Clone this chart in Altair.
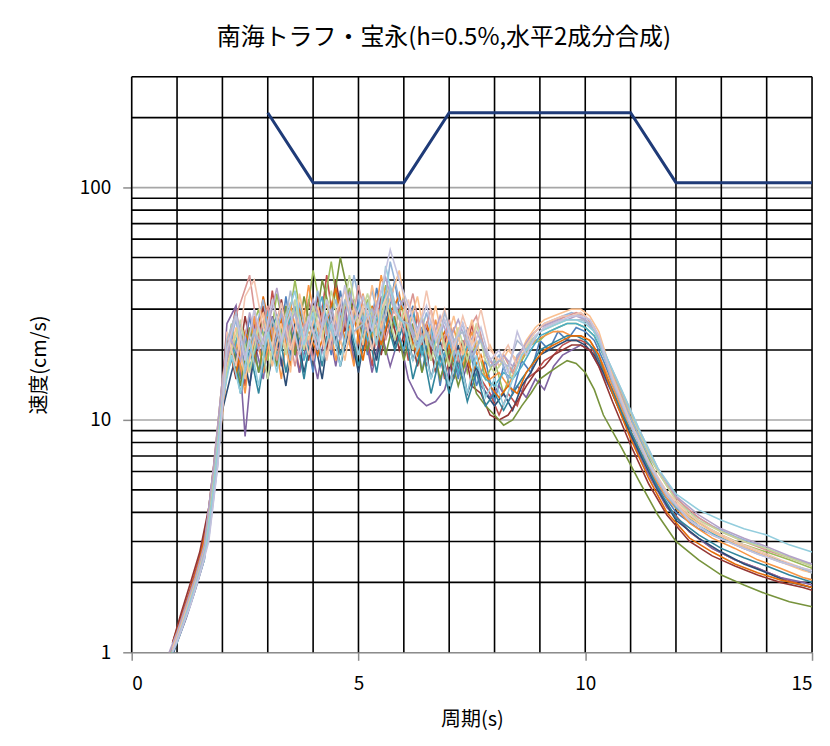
import altair as alt
import pandas as pd

TITLE = "南海トラフ・宝永(h=0.5%,水平2成分合成)"
X_TITLE = "周期(s)"
Y_TITLE = "速度(cm/s)"

X_TICKS = [0, 5, 10, 15]
Y_TICKS = [1, 10, 100]
GRID_X = [0, 1, 2, 3, 4, 5, 6, 7, 8, 9, 10, 11, 12, 13, 14, 15]
GRID_Y_MINOR = [2, 3, 4, 5, 6, 7, 8, 9, 20, 30, 40, 50, 60, 70, 80, 90, 200, 300]
GRID_Y_MAJOR = [10, 100]

# target spectrum
TARGET_T = [3, 4, 6, 7, 11, 12, 15]
TARGET_V = [210, 105, 105, 210, 210, 105, 105]

PERIOD_A = [0.8, 1.0, 1.2, 1.4, 1.6, 1.8,
            2.0, 2.2, 2.4, 2.6, 2.8, 3.0, 3.2, 3.4, 3.6, 3.8, 4.0, 4.2, 4.4, 4.6, 4.8,
            5.0, 5.2, 5.4, 5.6, 5.8, 6.0, 6.2, 6.4, 6.6, 6.8, 7.0, 7.2, 7.4, 7.6, 7.8,
            8.0, 8.2, 8.4, 8.6, 8.8, 9.0, 9.2, 9.4, 9.6, 9.8, 10.0, 10.2, 10.4,
            10.8, 11.2, 11.6, 12.0, 12.5, 13.0, 13.5, 14.0, 14.5, 15.0]
PERIOD_B = [0.9, 1.1, 1.3, 1.5, 1.7, 1.9,
            2.1, 2.3, 2.5, 2.7, 2.9, 3.1, 3.3, 3.5, 3.7, 3.9, 4.1, 4.3, 4.5, 4.7, 4.9,
            5.1, 5.3, 5.5, 5.7, 5.9, 6.1, 6.3, 6.5, 6.7, 6.9, 7.1, 7.3, 7.5, 7.7, 7.9,
            8.1, 8.3, 8.5, 8.7, 8.9, 9.1, 9.3, 9.5, 9.7, 9.9, 10.1, 10.3,
            10.6, 11.0, 11.4, 11.8, 12.3, 12.8, 13.3, 13.8, 14.3, 14.8, 15.0]

S01 = [0.9, 1.15, 1.5, 2.0, 2.7, 5.5,
       12, 24, 15, 28, 16, 30, 17, 34, 19, 27, 16, 31, 19, 36, 21,
       33, 19, 37, 24, 40, 22, 31, 16, 26, 14, 24, 15, 25, 14, 18,
       12, 17, 13, 18, 16, 22, 20, 24, 22, 25, 24, 22, 18,
       11.5, 7.8, 5.2, 4.0, 3.4, 3.1, 2.8, 2.6, 2.4, 2.2]
S02 = [1.1, 1.45, 1.9, 2.6, 4.0, 8.5,
       18, 31, 14, 26, 17, 36, 20, 29, 16, 33, 21, 42, 22, 31, 18,
       29, 17, 34, 23, 30, 18, 28, 17, 24, 15, 22, 16, 26, 15, 13,
       10.5, 13, 11.5, 15, 16, 18, 19, 21, 22, 22, 21, 18,
       13.5, 8.8, 6.0, 4.3, 3.3, 2.8, 2.5, 2.3, 2.1, 1.95, 1.9]
S03 = [0.95, 1.2, 1.6, 2.1, 2.9, 6.0,
       15, 26, 16, 23, 30, 18, 35, 22, 40, 23, 44, 28, 48, 26, 37,
       23, 33, 21, 38, 25, 34, 20, 28, 18, 26, 17, 23, 16, 22, 15,
       18, 13, 17, 18, 21, 22, 24, 25, 26, 26, 25, 23, 19,
       12.5, 8.4, 5.6, 4.3, 3.6, 3.2, 2.9, 2.7, 2.5, 2.3]
S04 = [1.05, 1.35, 1.8, 2.4, 3.6, 7.5,
       26, 31, 8.5, 22, 15, 28, 17, 25, 16, 23, 15, 27, 17, 30, 18,
       26, 16, 24, 17, 23, 15, 12.5, 11.5, 12, 13.5, 19, 15, 20, 14, 12.5,
       14, 12, 14, 12.5, 15, 13.5, 17, 19, 20, 21, 20, 17,
       13.0, 8.5, 5.8, 4.2, 3.3, 2.8, 2.5, 2.3, 2.1, 2.0, 1.95]
S05 = [1.0, 1.3, 1.7, 2.3, 3.3, 7.0,
       16, 22, 13, 28, 16, 26, 15, 32, 20, 38, 24, 32, 18, 27, 17,
       35, 22, 42, 27, 35, 21, 29, 18, 27, 17, 25, 17, 24, 16, 15,
       16, 14, 17, 20, 22, 23, 24, 24, 23, 23, 22, 19,
       14.0, 9.0, 6.2, 4.6, 3.6, 3.1, 2.8, 2.5, 2.3, 2.1, 2.05]
S06 = [0.85, 1.1, 1.4, 1.85, 2.5, 5.0,
       11, 16, 22, 14, 25, 15, 23, 14, 26, 16, 24, 15, 28, 17, 25,
       16, 27, 18, 31, 21, 28, 18, 25, 15, 22, 14, 21, 13, 17, 13,
       11.5, 13, 11, 14, 16, 19, 20, 21, 22, 22, 21, 19, 16,
       10.5, 7.2, 5.0, 3.7, 3.1, 2.7, 2.4, 2.2, 2.0, 1.9]
S07 = [1.1, 1.5, 2.0, 2.7, 4.2, 9.0,
       23, 15, 28, 17, 31, 19, 33, 20, 29, 18, 34, 20, 40, 24, 33,
       20, 28, 19, 30, 20, 27, 17, 25, 16, 23, 15, 22, 14, 13, 10.5,
       10, 10.5, 12, 14, 16, 17, 19, 20, 21, 21, 20, 17,
       12.0, 7.8, 5.3, 3.9, 3.0, 2.6, 2.35, 2.15, 2.0, 1.9, 1.85]
S08 = [0.9, 1.15, 1.5, 2.0, 2.8, 5.8,
       14, 22, 14, 25, 16, 27, 17, 31, 19, 34, 22, 40, 28, 50, 33,
       26, 20, 29, 19, 28, 18, 26, 16, 23, 15, 20, 14, 19, 13, 11.5,
       10.5, 9.5, 10, 11.5, 13, 15, 16, 17, 18, 17.5, 16, 13.5, 10.5,
       7.6, 5.4, 3.9, 3.0, 2.5, 2.15, 1.95, 1.78, 1.65, 1.57]
S09 = [0.88, 1.12, 1.45, 1.95, 2.6, 5.2,
       12, 21, 13, 20, 13, 23, 28, 16, 25, 15, 27, 17, 31, 19, 27,
       17, 25, 16, 28, 20, 26, 15, 21, 13, 19, 13, 18, 12, 16, 11.5,
       13, 11, 13, 15, 17, 20, 21, 22, 23, 23, 22, 20, 16.5,
       10.8, 7.4, 5.1, 3.8, 3.2, 2.8, 2.55, 2.35, 2.15, 2.0]
S10 = [1.0, 1.25, 1.65, 2.2, 3.1, 6.5,
       19, 27, 16, 23, 33, 19, 29, 18, 32, 21, 36, 23, 33, 21, 42,
       27, 36, 24, 48, 33, 28, 21, 29, 19, 27, 19, 26, 18, 23, 17,
       19, 15, 19, 21, 24, 26, 27, 28, 29, 28, 26, 22,
       16.0, 10.2, 7.0, 5.2, 4.0, 3.5, 3.15, 2.9, 2.65, 2.45, 2.4]
S11 = [0.95, 1.2, 1.55, 2.05, 2.8, 6.2,
       15, 25, 32, 42, 22, 31, 18, 28, 17, 26, 18, 29, 20, 33, 22,
       38, 25, 32, 22, 31, 24, 35, 22, 30, 19, 27, 18, 24, 28, 19,
       17, 19, 16, 20, 23, 25, 26, 27, 28, 29, 28, 25, 20,
       13.0, 8.8, 6.0, 4.6, 3.8, 3.3, 3.0, 2.75, 2.55, 2.35]
S12 = [1.05, 1.35, 1.75, 2.35, 3.4, 7.2,
       17, 25, 15, 22, 29, 17, 26, 16, 35, 22, 31, 19, 28, 18, 31,
       21, 38, 25, 33, 44, 25, 34, 21, 31, 20, 28, 19, 27, 18, 21,
       17, 20, 18, 22, 25, 27, 28, 29, 30, 30, 28, 24,
       15.5, 9.8, 6.6, 4.8, 3.8, 3.3, 2.95, 2.7, 2.45, 2.25, 2.2]
S13 = [0.9, 1.15, 1.5, 2.0, 2.7, 5.6,
       13, 20, 27, 16, 25, 15, 28, 19, 33, 20, 31, 22, 36, 24, 42,
       26, 35, 23, 33, 22, 30, 20, 28, 18, 25, 17, 25, 18, 26, 18,
       16, 18, 15, 19, 22, 24, 25, 26, 27, 27, 27, 24, 20,
       13.2, 8.8, 6.0, 4.5, 3.7, 3.3, 3.0, 2.8, 2.55, 2.35]
S14 = [1.02, 1.3, 1.7, 2.25, 3.2, 6.8,
       24, 17, 34, 40, 25, 21, 32, 20, 28, 19, 27, 18, 29, 36, 23,
       31, 20, 30, 37, 24, 33, 22, 36, 23, 30, 20, 28, 21, 30, 20,
       18, 21, 17, 21, 24, 26, 27, 28, 28, 29, 27, 23,
       15.2, 9.7, 6.6, 4.9, 3.9, 3.35, 3.0, 2.75, 2.5, 2.3, 2.25]
S15 = [0.9, 1.1, 1.45, 1.9, 2.5, 5.0,
       12, 19, 13, 22, 14, 24, 16, 27, 36, 21, 29, 18, 26, 17, 28,
       19, 32, 21, 46, 30, 26, 18, 23, 15, 21, 14, 20, 13, 19, 12.5,
       15, 11.5, 15, 19, 21, 24, 25, 26, 27, 27, 26, 24, 20,
       13.5, 9.0, 6.2, 4.8, 4.1, 3.7, 3.4, 3.2, 2.9, 2.7]
S16 = [1.0, 1.25, 1.6, 2.15, 3.0, 6.4,
       20, 28, 18, 30, 21, 33, 22, 29, 19, 28, 20, 33, 23, 38, 26,
       34, 24, 36, 54, 40, 31, 24, 31, 22, 27, 21, 26, 20, 25, 18,
       20, 16, 24, 19, 23, 25, 26, 27, 28, 28, 27, 23,
       15.0, 9.6, 6.5, 4.8, 3.7, 3.2, 2.9, 2.65, 2.45, 2.3, 2.25]
S17 = [0.92, 1.18, 1.55, 2.05, 2.8, 5.9,
       14, 18, 26, 17, 22, 29, 19, 24, 31, 18, 26, 34, 20, 29, 24,
       31, 22, 27, 35, 26, 20, 29, 19, 25, 17, 22, 16, 21, 17, 15,
       14, 16, 15, 17, 20, 23, 24, 25, 26, 26, 25, 23, 19,
       12.0, 8.1, 5.5, 4.2, 3.5, 3.1, 2.85, 2.6, 2.4, 2.2]
S18 = [1.08, 1.4, 1.85, 2.5, 3.8, 8.0,
       21, 16, 24, 19, 34, 22, 27, 17, 30, 24, 19, 26, 37, 22, 28,
       18, 31, 21, 29, 34, 24, 19, 26, 20, 24, 18, 21, 16, 19, 14,
       12.5, 14, 13, 16, 18, 20, 21, 22, 23, 23, 22, 19,
       13.0, 8.3, 5.6, 4.0, 3.1, 2.7, 2.4, 2.2, 2.05, 1.95, 1.9]
S19 = [0.97, 1.22, 1.6, 2.1, 2.9, 6.1,
       15, 22, 18, 29, 20, 25, 37, 23, 29, 22, 33, 25, 30, 22, 35,
       28, 24, 31, 41, 29, 33, 23, 27, 21, 28, 22, 27, 21, 24, 20,
       17, 19, 17, 20, 23, 25, 26, 27, 27, 28, 27, 24, 20,
       13.4, 9.0, 6.2, 4.7, 3.9, 3.4, 3.1, 2.85, 2.6, 2.4]
S20 = [1.0, 1.28, 1.68, 2.25, 3.2, 6.7,
       22, 29, 19, 24, 20, 27, 21, 36, 23, 27, 22, 28, 21, 33, 24,
       26, 30, 22, 38, 27, 26, 20, 24, 19, 29, 22, 24, 19, 22, 17,
       18, 17, 22, 20, 23, 25, 26, 27, 27, 27, 26, 22,
       14.5, 9.4, 6.4, 4.7, 3.7, 3.2, 2.9, 2.65, 2.45, 2.3, 2.2]

# drawing order: darker series first, pale ones on top
SERIES = [S01, S02, S03, S04, S05, S06, S07, S08, S09, S18,
          S17, S10, S11, S12, S13, S19, S14, S20, S15, S16]
SERIES_GRID = ["A", "B", "A", "B", "B", "A", "B", "A", "A", "B",
               "A", "B", "A", "B", "A", "A", "B", "B", "A", "B"]
SERIES_COLORS = ["#4F81BD", "#C0504D", "#9BBB59", "#8064A2", "#F79646", "#2C4D75",
                 "#943634", "#77933C", "#31859C", "#E46C0A",
                 "#4BACC6", "#95B3D7", "#D99694", "#FAC090", "#C3D69B", "#B3A2C7",
                 "#F2C4B0", "#A9B8CF", "#93CDDD", "#C4C2DE"]
SERIES_NAMES = ["s%02d" % (i + 1) for i in range(len(SERIES))]

rows = []
for name, grid, vals in zip(SERIES_NAMES, SERIES_GRID, SERIES):
    periods = PERIOD_A if grid == "A" else PERIOD_B
    if len(periods) != len(vals):
        raise ValueError(f"{name}: {len(periods)} periods vs {len(vals)} values")
    for i, (t, v) in enumerate(zip(periods, vals)):
        rows.append({"series": name, "period": t, "value": v, "idx": i})
spectra = pd.DataFrame(rows)
target = pd.DataFrame({"period": TARGET_T, "value": TARGET_V})

FONT = "Noto Sans CJK JP"
xscale = alt.Scale(domain=[0, 15], nice=False, zero=False)
yscale = alt.Scale(type="log", domain=[1, 300], nice=False)

x_axis = alt.Axis(values=X_TICKS, title=X_TITLE, grid=False, tickColor="#8c8c8c",
                  tickSize=8, tickWidth=1.5, domainColor="#8c8c8c", domainWidth=1.5,
                  labelFontSize=19, labelPadding=14, labelFont=FONT, labelColor="#000",
                  titleFont=FONT, titleFontSize=20, titleFontWeight="normal",
                  titleColor="#000", titlePadding=16)
y_axis = alt.Axis(values=Y_TICKS, format="d", title=Y_TITLE, grid=False, domain=False,
                  tickColor="#8c8c8c", tickSize=9, tickWidth=1.5,
                  labelFontSize=19, labelPadding=12, labelFont=FONT, labelColor="#000",
                  titleFont=FONT, titleFontSize=20, titleFontWeight="normal",
                  titleColor="#000", titlePadding=30)

X = lambda f: alt.X(f, scale=xscale, axis=x_axis, title=X_TITLE)
Y = lambda f: alt.Y(f, scale=yscale, axis=y_axis, title=Y_TITLE)

minor_h = alt.Chart(pd.DataFrame({"v": GRID_Y_MINOR})).mark_rule(
    color="#000", strokeWidth=1.6).encode(y=Y("v:Q"))
major_h = alt.Chart(pd.DataFrame({"v": GRID_Y_MAJOR})).mark_rule(
    color="#a6a6a6", strokeWidth=1.6).encode(y=Y("v:Q"))
vert = alt.Chart(pd.DataFrame({"t": GRID_X})).mark_rule(
    color="#000", strokeWidth=1.6).encode(x=X("t:Q"))

lines = alt.Chart(spectra).mark_line(strokeWidth=1.6, clip=True).encode(
    x=X("period:Q"),
    y=Y("value:Q"),
    color=alt.Color("series:N", scale=alt.Scale(domain=SERIES_NAMES, range=SERIES_COLORS),
                    legend=None),
    order="idx:Q",
)

target_line = alt.Chart(target).mark_line(color="#1F3B78", strokeWidth=3, clip=True).encode(
    x=X("period:Q"),
    y=Y("value:Q"),
)

chart = alt.layer(minor_h, major_h, vert, lines, target_line).properties(
    width=682, height=577,
    padding={"left": 124, "top": 68, "right": 10, "bottom": 80},
    autosize="none",
    title=alt.TitleParams(TITLE, font=FONT, fontSize=24, fontWeight="normal",
                          color="#000", anchor="middle", dx=-28, offset=26),
).configure_view(stroke=None).configure(background="white")

chart.save("out.html", embed_options={"renderer": "svg", "actions": False})
